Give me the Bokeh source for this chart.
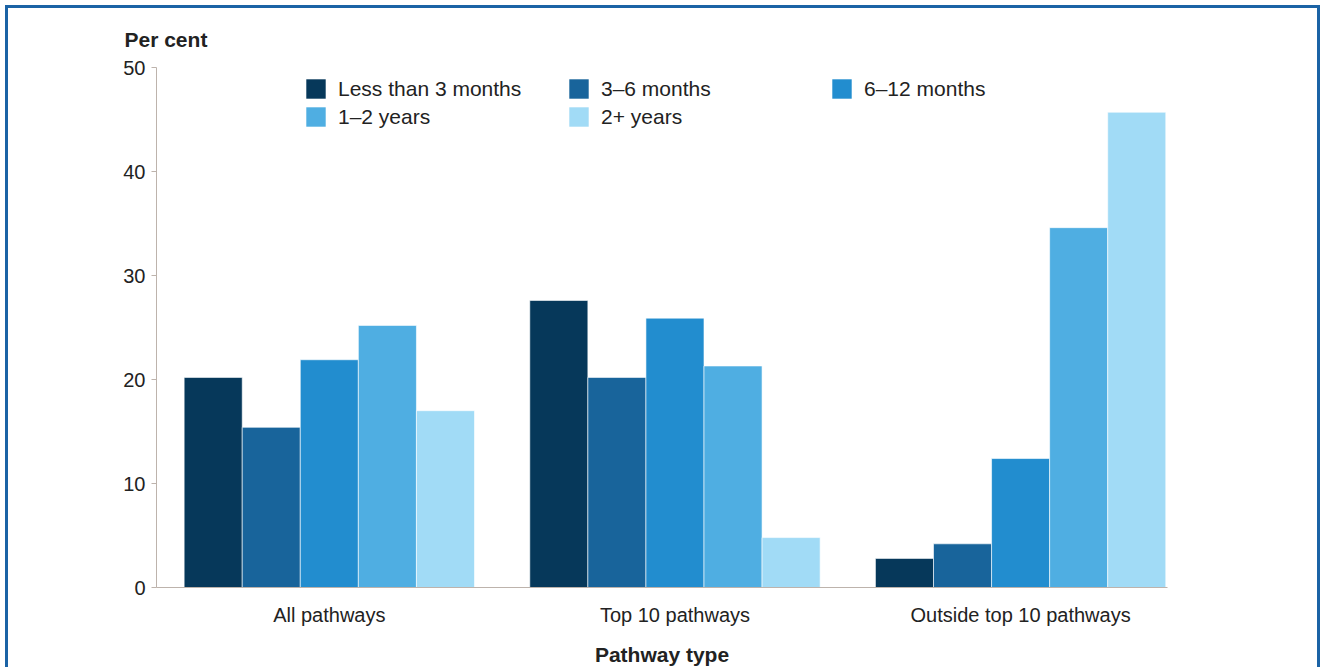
from bokeh.plotting import figure
from bokeh.models import Range1d, FixedTicker, Legend, LegendItem, ColumnDataSource
from bokeh.transform import dodge
from bokeh.embed import file_html
from bokeh.resources import INLINE

# ---- data ----
categories = ["All pathways", "Top 10 pathways", "Outside top 10 pathways"]
series = ["Less than 3 months", "3–6 months", "6–12 months", "1–2 years", "2+ years"]
less_than_3_months = [20.2, 27.6, 2.8]
months_3_6 = [15.4, 20.2, 4.2]
months_6_12 = [21.9, 25.9, 12.4]
years_1_2 = [25.2, 21.3, 34.6]
years_2_plus = [17.0, 4.8, 45.7]
y_ticks = [0, 10, 20, 30, 40, 50]

colors = ["#06385a", "#18649b", "#228dcf", "#4faee2", "#a1dbf6"]

FONT = "Liberation Sans"
bar_w = 0.168

src = ColumnDataSource(dict(
    x=list(range(len(categories))),
    s0=less_than_3_months, s1=months_3_6, s2=months_6_12, s3=years_1_2, s4=years_2_plus,
))

p = figure(
    frame_width=1011, frame_height=520,
    x_range=Range1d(-0.5, 2.425), y_range=Range1d(0, 50),
    output_backend="svg", toolbar_location=None,
    min_border_left=148, min_border_right=150, min_border_top=58, min_border_bottom=78,
    title="Per cent",
)
p.styles = {"border": "3px solid #1b63a5", "margin": "5px 0px 0px 5px"}

p.title.text_font = FONT
p.title.text_font_size = "21px"
p.title.text_font_style = "bold"
p.title.text_color = "#222222"
p.title.align = "left"
p.title.offset = -32
p.title.standoff = 34

renderers = []
for i, name in enumerate(series):
    r = p.vbar(x=dodge("x", (i - 2) * bar_w, range=p.x_range), top=f"s{i}", width=bar_w,
               source=src, fill_color=colors[i], line_color="white", line_width=0.6)
    renderers.append(r)

p.xgrid.visible = False
p.ygrid.visible = False
p.outline_line_color = None

axis_color = "#bdb3ac"
# x axis
p.xaxis.ticker = FixedTicker(ticks=[0, 1, 2])
p.xaxis.major_label_overrides = {i: c for i, c in enumerate(categories)}
p.xaxis.major_tick_in = 0
p.xaxis.major_tick_out = 0
p.xaxis.minor_tick_line_color = None
p.xaxis.axis_line_color = axis_color
p.xaxis.major_label_text_font = FONT
p.xaxis.major_label_text_font_size = "20px"
p.xaxis.major_label_text_color = "#222222"
p.xaxis.major_label_standoff = 16
p.xaxis.axis_label = "Pathway type"
p.xaxis.axis_label_text_font = FONT
p.xaxis.axis_label_text_font_size = "21px"
p.xaxis.axis_label_text_font_style = "bold"
p.xaxis.axis_label_text_color = "#222222"
p.xaxis.axis_label_standoff = 14

# y axis
p.yaxis.ticker = FixedTicker(ticks=y_ticks)
p.yaxis.major_tick_in = 0
p.yaxis.major_tick_out = 5
p.yaxis.minor_tick_line_color = None
p.yaxis.axis_line_color = axis_color
p.yaxis.major_tick_line_color = axis_color
p.yaxis.major_label_text_font = FONT
p.yaxis.major_label_text_font_size = "20px"
p.yaxis.major_label_text_color = "#222222"
p.yaxis.major_label_standoff = 6

legend = Legend(
    items=[LegendItem(label=n, renderers=[r]) for n, r in zip(series, renderers)],
    location=(147, 458), orientation="horizontal", ncols=3,
    border_line_color=None, background_fill_alpha=0, padding=0, margin=0,
    glyph_width=25, glyph_height=25, label_height=22, label_width=225,
    label_standoff=10, spacing=3,
    label_text_font=FONT, label_text_font_size="21px", label_text_color="#222222",
)
p.add_layout(legend)

open("out.html", "w").write(file_html(p, INLINE))
